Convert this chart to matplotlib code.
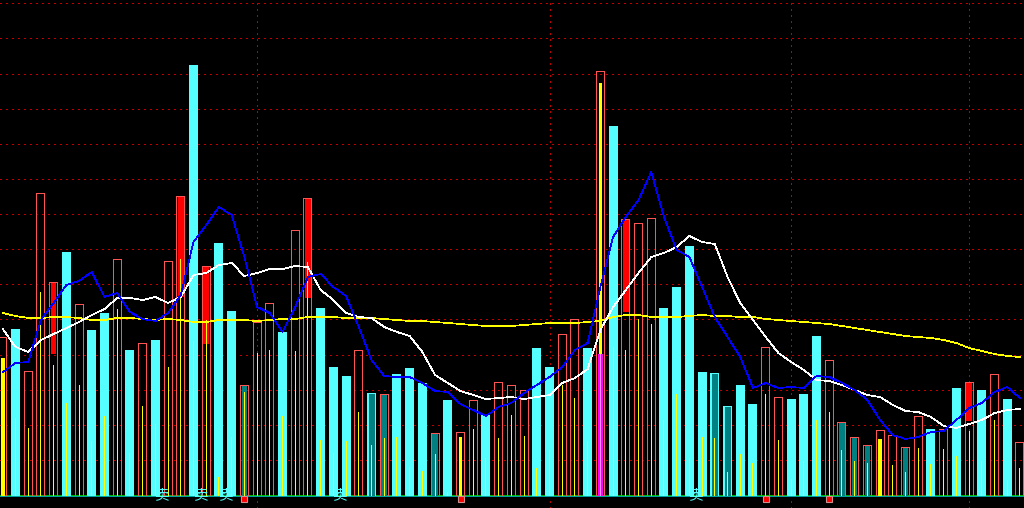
import numpy as np
import matplotlib
matplotlib.use("Agg")
import matplotlib.pyplot as plt

plt.rcParams['font.family'] = ['Noto Sans CJK SC', 'DejaVu Sans']

# ---------------- data ----------------
# volume bar heights (baseline = 0)
vol = [159, 167, 125, 303, 214, 244, 192, 166, 183, 237, 146, 153, 156, 235, 300, 431, 230, 253, 185, 111, 174,
       193, 164, 266, 298, 188, 129, 120, 146, 103, 102, 122, 128, 113, 63, 96, 64, 96, 81, 114, 111,
       106, 148, 129, 162, 177, 148, 425, 370, 277, 273, 278, 188, 209, 250, 124, 123, 90, 111, 92,
       149, 99, 97, 102, 160, 136, 74, 59, 51, 66, 61, 49, 80, 67, 67, 108, 114, 106, 122, 97, 54]
# 1 = up day (hollow red bar), 0 = down day (solid cyan bar)
up = [1, 0, 1, 1, 1, 0, 1, 0, 0, 1, 0, 1, 0, 1, 1, 0, 1, 0, 0, 1, 1,
      1, 0, 1, 1, 0, 0, 0, 1, 0, 1, 0, 0, 0, 1, 0, 1, 1, 0, 1, 1,
      1, 0, 0, 1, 1, 0, 1, 0, 1, 1, 1, 0, 0, 0, 0, 0, 0, 0, 0,
      1, 1, 0, 0, 0, 1, 1, 1, 1, 1, 1, 1, 1, 0, 1, 0, 1, 0, 1, 0, 1]
# secondary (yellow) volume
yvol = [138, 78, 68, 204, 131, 93, 111, 55, 80, 187, 43, 90, 72, 129, 237, 155, 176, 19, 59, 104, 143,
        146, 80, 145, 234, 56, 43, 55, 84, 51, 58, 59, 29, 25, 42, 4, 59, 67, 38, 58, 81,
        60, 28, 46, 111, 98, 55, 413, 149, 146, 177, 172, 76, 102, 38, 59, 58, 24, 42, 33,
        102, 56, 17, 35, 76, 84, 46, 35, 33, 57, 31, 24, 48, 32, 47, 40, 65, 35, 76, 16, 28]
thick_idx = [0, 36, 47, 69]
red_fill_idx = [4, 14, 16, 24, 49, 76]
red_fill_low = [142, 199, 152, 198, 184, 75]
teal_idx = [19, 29, 30, 34, 56, 57, 66, 67, 68, 71]
mag_idx = [47]
mag_h = [142]
# moving averages of volume
ma_short = [124, 133, 134, 176, 193, 211, 215, 224, 199, 203, 184, 177, 175, 183, 201, 254, 271, 289, 281, 239, 189,
            183, 164, 189, 219, 222, 209, 200, 169, 136, 120, 119, 119, 113, 105, 104, 92, 86, 80, 89, 93,
            103, 111, 119, 129, 146, 153, 209, 259, 279, 296, 324, 279, 246, 239, 209, 179, 159, 139, 108,
            113, 108, 109, 108, 120, 119, 113, 106, 96, 76, 61, 57, 59, 64, 65, 76, 88, 93, 104, 109, 98]
ma_mid = [167, 149, 144, 156, 162, 168, 174, 181, 187, 198, 198, 196, 199, 193, 199, 221, 223, 231, 233, 220, 223,
          227, 227, 230, 229, 206, 196, 183, 179, 178, 169, 164, 160, 144, 121, 113, 105, 101, 97, 98, 99,
          97, 99, 101, 113, 118, 127, 166, 189, 206, 223, 239, 243, 249, 260, 254, 252, 219, 193, 176,
          159, 143, 134, 126, 116, 115, 111, 106, 101, 99, 91, 85, 84, 79, 70, 68, 72, 76, 83, 86, 87]
ma_long = [183, 180, 178, 178, 179, 179, 178, 176, 176, 178, 178, 177, 176, 177, 176, 174, 174, 176, 176, 176, 175,
           176, 177, 177, 179, 179, 179, 178, 178, 178, 177, 176, 175, 175, 174, 173, 172, 171, 170, 170, 170,
           171, 172, 173, 173, 173, 174, 175, 179, 181, 181, 179, 179, 179, 180, 181, 180, 180, 179, 179,
           177, 176, 175, 174, 173, 172, 170, 168, 166, 164, 162, 160, 159, 158, 156, 153, 148, 145, 142, 140, 139]
vgrid_idx = [20, 43, 62, 76]
sell_pos = [12.5, 15.5, 17.5, 26.5, 54.5]
sell_text = "卖"
flag_idx = [19, 36, 60, 65]

# ---------------- style ----------------
CYAN = '#55FFFF'
RED_OUT = '#FF5454'
RED = '#FF0000'
TEAL = '#008080'
YEL = '#FFFF00'
GRID = '#C00000'
LW = 0.5   # ~1 pixel, non-antialiased

PX = 12.715            # pixels per bar slot
def w(px):
    return px / PX

fig = plt.figure(figsize=(10.24, 5.08), dpi=100, facecolor='black')
ax = fig.add_axes([0, 0, 1, 1])
ax.set_facecolor('black')
ax.set_xlim(-2.785 / PX, (1024 - 2.785) / PX)
ax.set_ylim(-12, 496)
ax.axis('off')

x = np.arange(len(vol))
vol_a = np.array(vol, dtype=float)
up_a = np.array(up, dtype=bool)
NA = dict(linewidth=0, antialiased=False)

# grid
for k in range(14):
    ax.axhline(492.7 - 35.12 * k, color=GRID, lw=LW, ls=(0, (2, 6)), zorder=0, antialiased=False)
for g in vgrid_idx:
    ax.axvline(g, color=GRID, lw=LW, ls=(0, (2, 6)), zorder=0, antialiased=False)

# green segments under the bars
ax.bar(x, 1.0, width=1.0, bottom=0.5, color='#00B400', zorder=1, **NA)

# down bars: solid cyan
ax.bar(x[~up_a], vol_a[~up_a], width=w(9), color=CYAN, zorder=2, **NA)
# up bars: hollow red (three 1-px sides)
xu, hu = x[up_a], vol_a[up_a]
ax.bar(xu - w(4), hu, width=w(1), color=RED_OUT, zorder=2, **NA)
ax.bar(xu + w(4), hu, width=w(1), color=RED_OUT, zorder=2, **NA)
ax.bar(xu, 1.0, bottom=hu - 1.0, width=w(9), color=RED_OUT, zorder=2, **NA)

# inner fills
for i, lo in zip(red_fill_idx, red_fill_low):
    ax.bar(i, vol[i] - lo - 1, bottom=lo, width=w(5.5), color=RED, zorder=3, **NA)
for i in teal_idx:
    ax.bar(i, vol[i] - 1, width=w(5.5) if up[i] else w(6), color=TEAL, zorder=3, **NA)

# yellow volume
thin = [i for i in range(len(vol)) if i not in thick_idx]
ax.bar(x[thin], np.array(yvol)[thin], width=w(1), color=YEL, zorder=4, **NA)
ax.bar(thick_idx, [yvol[i] for i in thick_idx], width=w(3.5), color=YEL, zorder=4, **NA)
for i, h in zip(mag_idx, mag_h):
    ax.bar(i, h, width=w(5), color='#FF00FF', zorder=5, **NA)
    ax.bar(i, h, width=w(1), color='#FF90FF', zorder=5, **NA)

# moving averages
ax.plot(x, ma_long, color=YEL, lw=LW, zorder=6, antialiased=False)
ax.plot(x, ma_mid, color='white', lw=LW, zorder=6, antialiased=False)
ax.plot(x, ma_short, color='#0000FF', lw=LW, zorder=6, antialiased=False)

# baseline
ax.bar(x, 1.0, width=1.0, bottom=-0.5, color='#00A0A0', zorder=7, **NA)

# bottom signals
for p in sell_pos:
    ax.text(p, 0.5, sell_text, color=CYAN, fontsize=10.5, ha='center', va='center', zorder=8)
ax.plot(flag_idx, [-3.2] * len(flag_idx), ls='none', marker='s', markersize=4.2,
        markerfacecolor=RED, markeredgecolor='#D09090', markeredgewidth=0.8, zorder=8)

fig.savefig('out.png', dpi=100, facecolor='black')
